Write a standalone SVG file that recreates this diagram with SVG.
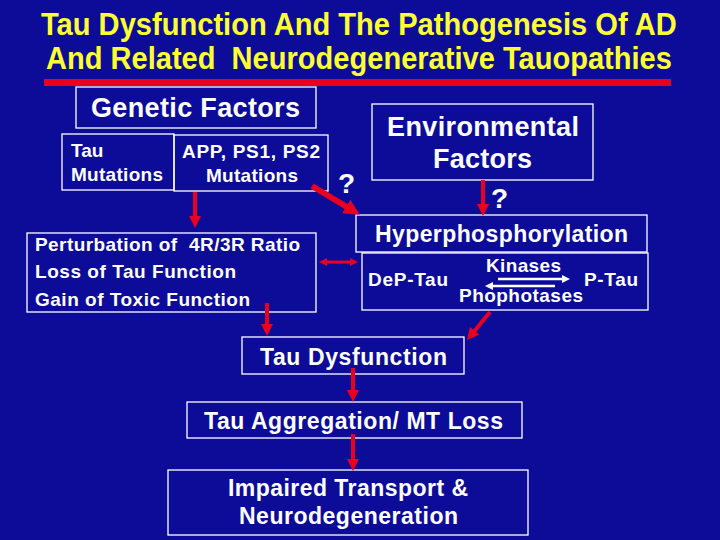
<svg xmlns="http://www.w3.org/2000/svg" width="720" height="540" viewBox="0 0 720 540">
<defs>
<style>
.bg{fill:#0c0c98}
.box{fill:none;stroke:#ffffff;stroke-width:1.3}
.t{font-family:"Liberation Sans",Arial,sans-serif;font-weight:bold;fill:#ffffff;white-space:pre}
.title{font-family:"Liberation Sans Narrow","Liberation Sans",Arial,sans-serif;font-weight:bold;fill:#ffff33;font-size:32px;white-space:pre}
.red{stroke:#e8001e;fill:none}
.wh{stroke:#ffffff;fill:none;stroke-width:2.5}
</style>
<marker id="rh" viewBox="0 0 12 12" refX="1" refY="6" markerWidth="12" markerHeight="12" markerUnits="userSpaceOnUse" orient="auto"><path d="M0,0 L12,6 L0,12 z" fill="#e8001e"/></marker>
<marker id="rhL" viewBox="0 0 16 16" refX="1" refY="8" markerWidth="16" markerHeight="16" markerUnits="userSpaceOnUse" orient="auto"><path d="M0,0 L16,8 L0,16 z" fill="#e8001e"/></marker>
<marker id="rhS" viewBox="0 0 8 8" refX="1" refY="4" markerWidth="8" markerHeight="8" markerUnits="userSpaceOnUse" orient="auto-start-reverse"><path d="M0,0 L8,4 L0,8 z" fill="#e8001e"/></marker>
<marker id="wh" viewBox="0 0 8 8" refX="1" refY="4" markerWidth="8" markerHeight="8" markerUnits="userSpaceOnUse" orient="auto"><path d="M0,0 L8,4 L0,8 z" fill="#ffffff"/></marker>
</defs>
<rect class="bg" x="0" y="0" width="720" height="540"/>
<g id="title">
<g transform="scale(0.815,1)">
<text class="title" x="50.3" y="35" textLength="780" lengthAdjust="spacingAndGlyphs">Tau Dysfunction And The Pathogenesis Of AD</text>
<text class="title" x="56.4" y="69" textLength="768" lengthAdjust="spacingAndGlyphs" xml:space="preserve">And Related  Neurodegenerative Tauopathies</text>
</g>
<rect x="44" y="79" width="627" height="7" fill="#e8001e"/>
</g>
<g id="genetic">
<rect class="box" x="76" y="87" width="240" height="41"/>
<text class="t" x="91" y="117" font-size="27" textLength="209">Genetic Factors</text>
</g>
<g id="taumut">
<rect class="box" x="62" y="134" width="112" height="56"/>
<text class="t" x="71" y="157" font-size="19">Tau</text>
<text class="t" x="71" y="181" font-size="19" textLength="92">Mutations</text>
</g>
<g id="appmut">
<rect class="box" x="174" y="135" width="154" height="56"/>
<text class="t" x="182" y="158" font-size="19" textLength="138">APP, PS1, PS2</text>
<text class="t" x="206" y="182" font-size="19" textLength="92">Mutations</text>
</g>
<g id="q1"><text class="t" x="338" y="193" font-size="28">?</text></g>
<g id="env">
<rect class="box" x="372" y="104" width="221" height="76"/>
<text class="t" x="387" y="136" font-size="27" textLength="192">Environmental</text>
<text class="t" x="433" y="168" font-size="27" textLength="99">Factors</text>
</g>
<g id="q2"><text class="t" x="491" y="208" font-size="28">?</text></g>
<g id="hyper">
<rect class="box" x="356" y="215" width="291" height="37"/>
<text class="t" x="375" y="242" font-size="23" textLength="253">Hyperphosphorylation</text>
</g>
<g id="dep">
<rect class="box" x="362" y="253" width="286" height="57"/>
<text class="t" x="368" y="286" font-size="19" textLength="80">DeP-Tau</text>
<text class="t" x="486" y="272" font-size="19" textLength="75">Kinases</text>
<text class="t" x="459" y="302" font-size="19" textLength="124">Phophotases</text>
<text class="t" x="584" y="286" font-size="19" textLength="54">P-Tau</text>
<line class="wh" x1="498" y1="279" x2="563" y2="279" marker-end="url(#wh)"/>
<line class="wh" x1="555" y1="286" x2="492" y2="286" marker-end="url(#wh)"/>
</g>
<g id="perturb">
<rect class="box" x="27" y="233" width="289" height="79"/>
<text class="t" x="35" y="251" font-size="19" textLength="265" xml:space="preserve">Perturbation of  4R/3R Ratio</text>
<text class="t" x="35" y="278" font-size="19" textLength="201">Loss of Tau Function</text>
<text class="t" x="35" y="306" font-size="19" textLength="215">Gain of Toxic Function</text>
</g>
<g id="taudys">
<rect class="box" x="242" y="337" width="222" height="37"/>
<text class="t" x="260" y="365" font-size="23" textLength="187">Tau Dysfunction</text>
</g>
<g id="agg">
<rect class="box" x="187" y="402" width="335" height="36"/>
<text class="t" x="204" y="429" font-size="23" textLength="299">Tau Aggregation/ MT Loss</text>
</g>
<g id="impaired">
<rect class="box" x="168" y="470" width="360" height="65"/>
<text class="t" x="228" y="496" font-size="23" textLength="240">Impaired Transport &amp;</text>
<text class="t" x="239" y="524" font-size="23" textLength="219">Neurodegeneration</text>
</g>
<g id="connectors">
<line class="red" stroke-width="4" x1="195" y1="192" x2="195" y2="217" marker-end="url(#rh)"/>
<line class="red" stroke-width="6" x1="312" y1="186" x2="347" y2="207" marker-end="url(#rhL)"/>
<line class="red" stroke-width="4" x1="483" y1="180" x2="483" y2="205" marker-end="url(#rh)"/>
<line class="red" stroke-width="3" x1="326" y1="262" x2="351" y2="262" marker-start="url(#rhS)" marker-end="url(#rhS)"/>
<line class="red" stroke-width="4" x1="267" y1="303" x2="267" y2="325" marker-end="url(#rh)"/>
<line class="red" stroke-width="4" x1="490" y1="312" x2="474" y2="331.5" marker-end="url(#rh)"/>
<line class="red" stroke-width="4" x1="353" y1="368" x2="353" y2="391" marker-end="url(#rh)"/>
<line class="red" stroke-width="4" x1="353" y1="434" x2="353" y2="460" marker-end="url(#rh)"/>
</g>
</svg>
